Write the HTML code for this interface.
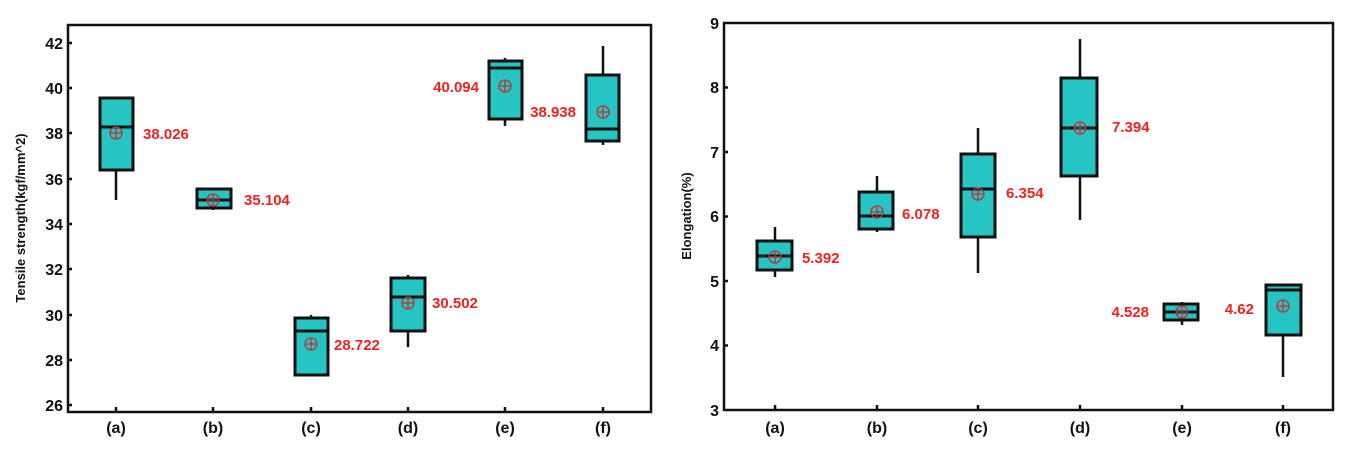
<!DOCTYPE html>
<html><head><meta charset="utf-8"><style>
html,body{margin:0;padding:0;background:#fff;}
svg{display:block;font-family:"Liberation Sans",Arial,sans-serif;font-weight:bold;}
.t{font-size:16px;fill:#111;}
.v{font-size:15px;fill:#ee2222;}
.b{fill:#26c4c2;stroke:#111;stroke-width:3;}
.l{stroke:#111;stroke-width:2.5;}
.m{stroke:#111;stroke-width:3;}
.mc{fill:none;stroke:#c03030;stroke-width:1.3;}
</style></head><body>
<svg width="1349" height="450" viewBox="0 0 1349 450">
<!-- LEFT -->
<rect x="68" y="25" width="583" height="387" fill="none" stroke="#111" stroke-width="2.5"/>
<g class="l">
<line x1="68" y1="43" x2="72" y2="43"/><line x1="68" y1="88" x2="72" y2="88"/><line x1="68" y1="133" x2="72" y2="133"/><line x1="68" y1="179" x2="72" y2="179"/><line x1="68" y1="224" x2="72" y2="224"/><line x1="68" y1="269" x2="72" y2="269"/><line x1="68" y1="315" x2="72" y2="315"/><line x1="68" y1="360" x2="72" y2="360"/><line x1="68" y1="405" x2="72" y2="405"/>
<line x1="116" y1="412" x2="116" y2="407"/><line x1="213" y1="412" x2="213" y2="407"/><line x1="311" y1="412" x2="311" y2="407"/><line x1="408" y1="412" x2="408" y2="407"/><line x1="505" y1="412" x2="505" y2="407"/><line x1="603" y1="412" x2="603" y2="407"/>
</g>
<g class="t" text-anchor="end">
<text x="63" y="49">42</text><text x="63" y="94">40</text><text x="63" y="139">38</text><text x="63" y="185">36</text><text x="63" y="230">34</text><text x="63" y="275">32</text><text x="63" y="321">30</text><text x="63" y="366">28</text><text x="63" y="411">26</text>
</g>
<g class="t" text-anchor="middle">
<text x="116" y="433">(a)</text><text x="213" y="433">(b)</text><text x="311" y="433">(c)</text><text x="408" y="433">(d)</text><text x="505" y="433">(e)</text><text x="603" y="433">(f)</text>
</g>
<text transform="translate(25,218) rotate(-90)" text-anchor="middle" style="font-size:13px;fill:#111">Tensile strength(kgf/mm^2)</text>
<!-- a -->
<line class="l" x1="116" y1="97" x2="116" y2="200"/><rect class="b" x="100" y="98" width="33" height="72"/><line class="m" x1="100" y1="127" x2="133" y2="127"/>
<!-- b -->
<line class="l" x1="213" y1="188" x2="213" y2="210"/><rect class="b" x="197" y="189" width="34" height="19"/><line class="m" x1="197" y1="200" x2="231" y2="200"/>
<!-- c -->
<line class="l" x1="311" y1="315" x2="311" y2="320"/><rect class="b" x="295" y="318" width="33" height="57"/><line class="m" x1="295" y1="331" x2="328" y2="331"/>
<!-- d -->
<line class="l" x1="408" y1="275" x2="408" y2="347"/><rect class="b" x="391" y="278" width="34" height="53"/><line class="m" x1="391" y1="297" x2="425" y2="297"/>
<!-- e -->
<line class="l" x1="505" y1="58" x2="505" y2="126"/><rect class="b" x="489" y="61" width="33" height="58"/><line class="m" x1="489" y1="68" x2="522" y2="68"/>
<!-- f -->
<line class="l" x1="603" y1="46" x2="603" y2="145"/><rect class="b" x="586" y="75" width="33" height="66"/><line class="m" x1="586" y1="129" x2="619" y2="129"/>
<g class="mc">
<circle cx="116" cy="133" r="6"/><path d="M110 133h12M116 127v12"/>
<circle cx="213" cy="200" r="6"/><path d="M207 200h12M213 194v12"/>
<circle cx="311" cy="344" r="6"/><path d="M305 344h12M311 338v12"/>
<circle cx="408" cy="303" r="6"/><path d="M402 303h12M408 297v12"/>
<circle cx="505" cy="86" r="6"/><path d="M499 86h12M505 80v12"/>
<circle cx="603" cy="112" r="6"/><path d="M597 112h12M603 106v12"/>
</g>
<g class="v">
<text x="143" y="139">38.026</text><text x="244" y="205">35.104</text><text x="334" y="350">28.722</text><text x="432" y="308">30.502</text>
<text x="479" y="92" text-anchor="end">40.094</text><text x="576" y="117" text-anchor="end">38.938</text>
</g>
<!-- RIGHT -->
<rect x="724" y="23" width="609" height="387" fill="none" stroke="#111" stroke-width="2.5"/>
<g class="l">
<line x1="724" y1="87.5" x2="728" y2="87.5"/><line x1="724" y1="152" x2="728" y2="152"/><line x1="724" y1="216.5" x2="728" y2="216.5"/><line x1="724" y1="281" x2="728" y2="281"/><line x1="724" y1="345.5" x2="728" y2="345.5"/>
<line x1="775" y1="410" x2="775" y2="405"/><line x1="877" y1="410" x2="877" y2="405"/><line x1="978" y1="410" x2="978" y2="405"/><line x1="1080" y1="410" x2="1080" y2="405"/><line x1="1182" y1="410" x2="1182" y2="405"/><line x1="1283" y1="410" x2="1283" y2="405"/>
</g>
<g class="t" text-anchor="end">
<text x="719" y="29">9</text><text x="719" y="93">8</text><text x="719" y="158">7</text><text x="719" y="222">6</text><text x="719" y="287">5</text><text x="719" y="351">4</text><text x="719" y="416">3</text>
</g>
<g class="t" text-anchor="middle">
<text x="775" y="433">(a)</text><text x="877" y="433">(b)</text><text x="978" y="433">(c)</text><text x="1080" y="433">(d)</text><text x="1182" y="433">(e)</text><text x="1283" y="433">(f)</text>
</g>
<text transform="translate(691,216) rotate(-90)" text-anchor="middle" style="font-size:13px;fill:#111">Elongation(%)</text>
<line class="l" x1="775" y1="227" x2="775" y2="277"/><rect class="b" x="757" y="241" width="35" height="29"/><line class="m" x1="757" y1="256" x2="792" y2="256"/>
<line class="l" x1="877" y1="176" x2="877" y2="232"/><rect class="b" x="859" y="192" width="34" height="37"/><line class="m" x1="859" y1="216" x2="893" y2="216"/>
<line class="l" x1="978" y1="128" x2="978" y2="273"/><rect class="b" x="961" y="154" width="34" height="83"/><line class="m" x1="961" y1="189" x2="995" y2="189"/>
<line class="l" x1="1080" y1="39" x2="1080" y2="220"/><rect class="b" x="1061" y="78" width="36" height="98"/><line class="m" x1="1061" y1="128" x2="1097" y2="128"/>
<line class="l" x1="1182" y1="302" x2="1182" y2="325"/><rect class="b" x="1164" y="304" width="34" height="16"/><line class="m" x1="1164" y1="312" x2="1198" y2="312"/>
<line class="l" x1="1283" y1="335" x2="1283" y2="377"/><rect class="b" x="1266" y="285" width="35" height="50"/><line class="m" x1="1266" y1="290" x2="1301" y2="290"/>
<g class="mc">
<circle cx="775" cy="257" r="6"/><path d="M769 257h12M775 251v12"/>
<circle cx="877" cy="212" r="6"/><path d="M871 212h12M877 206v12"/>
<circle cx="978" cy="194" r="6"/><path d="M972 194h12M978 188v12"/>
<circle cx="1080" cy="128" r="6"/><path d="M1074 128h12M1080 122v12"/>
<circle cx="1182" cy="312" r="6"/><path d="M1176 312h12M1182 306v12"/>
<circle cx="1283" cy="306" r="6"/><path d="M1277 306h12M1283 300v12"/>
</g>
<g class="v">
<text x="802" y="263">5.392</text><text x="902" y="219">6.078</text><text x="1006" y="198">6.354</text><text x="1112" y="132">7.394</text>
<text x="1149" y="317" text-anchor="end">4.528</text><text x="1254" y="314" text-anchor="end">4.62</text>
</g>
</svg>
</body></html>
